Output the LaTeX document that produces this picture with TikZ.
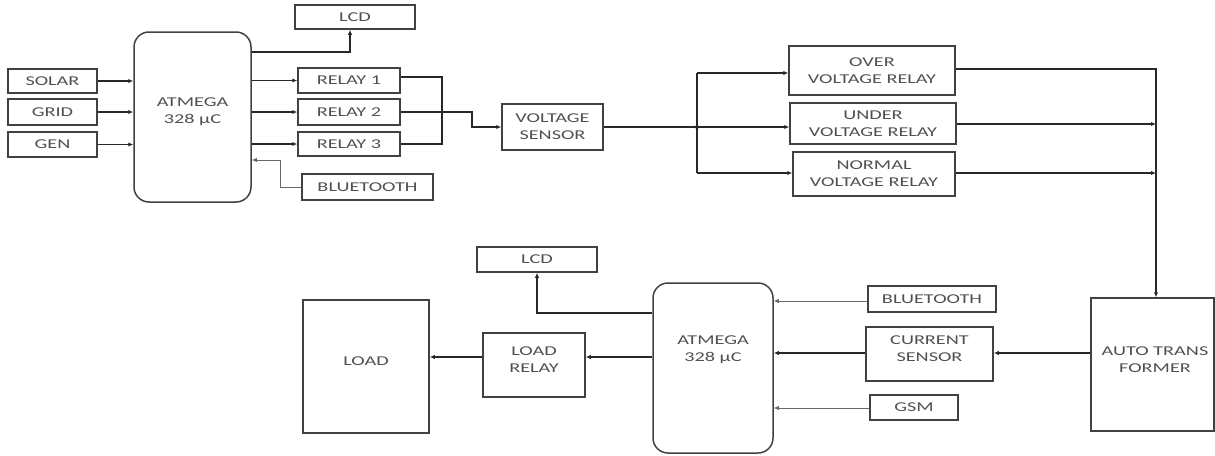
\documentclass[tikz,border=0pt]{standalone}
\usepackage{fontspec}
\usepackage{graphicx}
\newfontfamily\lab{Carlito}
\newcommand{\sx}[1]{\scalebox{1.5}[1]{#1}}
\usetikzlibrary{arrows.meta}
\definecolor{boxc}{RGB}{65,65,65}
\definecolor{txtc}{RGB}{80,80,80}
\definecolor{linec}{RGB}{40,40,40}
\definecolor{thinc}{RGB}{105,105,105}
\begin{document}
\begin{tikzpicture}[x=1pt,y=-1pt,
  txt/.style={text=txtc,align=center,font=\lab\fontsize{13.5}{17}\selectfont},
  box/.style={draw=boxc,line width=1.5pt,inner sep=0pt,txt},
  mcu/.style={box,rounded corners=15pt},
  wire/.style={draw=linec,line width=1.4pt},
  arr/.style={wire,-{Latex[length=5pt,width=4.5pt]}},
  thin/.style={draw=thinc,line width=0.9pt,-{Latex[length=5pt,width=4.5pt]}}]
\useasboundingbox (0,0) rectangle (1215,455);
% ---------- top part ----------
\node[box,minimum width=89pt,minimum height=24pt] (solar) at (52.5,81) {\sx{SOLAR}};
\node[box,minimum width=89pt,minimum height=26pt] (grid) at (52.5,112) {\sx{GRID}};
\node[box,minimum width=89pt,minimum height=25pt] (gen) at (52.5,144.5) {\sx{GEN}};
\node[mcu,minimum width=117pt,minimum height=170pt] (atm1) at (192.5,117) {};
\node[txt] (atm1t) at (192.5,112) {\sx{ATMEGA}\\\sx{328 µC}};
\node[box,minimum width=120pt,minimum height=24pt] (lcd1) at (355,17) {\sx{LCD}};
\node[box,minimum width=102pt,minimum height=25pt] (r1) at (349,80.5) {\sx{RELAY 1}};
\node[box,minimum width=102pt,minimum height=26pt] (r2) at (349,112) {\sx{RELAY 2}};
\node[box,minimum width=102pt,minimum height=24pt] (r3) at (349,144) {\sx{RELAY 3}};
\node[box,minimum width=131pt,minimum height=26pt] (bt1) at (367.5,187) {\sx{BLUETOOTH}};
\node[box,minimum width=101pt,minimum height=46pt] (vs) at (552.5,127) {\sx{VOLTAGE}\\\sx{SENSOR}};
\node[box,minimum width=166pt,minimum height=49pt] (over) at (872,70.5) {\sx{OVER}\\\sx{VOLTAGE RELAY}};
\node[box,minimum width=166pt,minimum height=41pt] (under) at (873,123.5) {\sx{UNDER}\\\sx{VOLTAGE RELAY}};
\node[box,minimum width=162pt,minimum height=44pt] (normal) at (874,174) {\sx{NORMAL}\\\sx{VOLTAGE RELAY}};
% ---------- bottom part ----------
\node[box,minimum width=123pt,minimum height=133pt] (atf) at (1152.5,364.5) {};
\node[txt] (atft) at (1155,360) {\sx{AUTO TRANS}\\\sx{FORMER}};
\node[box,minimum width=127pt,minimum height=54pt] (cs) at (929.5,354) {};
\node[txt] (cst) at (929.5,349) {\sx{CURRENT}\\\sx{SENSOR}};
\node[box,minimum width=128pt,minimum height=26pt] (bt2) at (932,299) {\sx{BLUETOOTH}};
\node[box,minimum width=88pt,minimum height=25pt] (gsm) at (914,407.5) {\sx{GSM}};
\node[mcu,minimum width=120pt,minimum height=170pt] (atm2) at (713,368) {};
\node[txt] (atm2t) at (713,350) {\sx{ATMEGA}\\\sx{328 µC}};
\node[box,minimum width=120pt,minimum height=25pt] (lcd2) at (537,259.5) {\sx{LCD}};
\node[box,minimum width=102pt,minimum height=64pt] (lr) at (534,365) {};
\node[txt] (lrt) at (534,360) {\sx{LOAD}\\\sx{RELAY}};
\node[box,minimum width=126pt,minimum height=133pt] (load) at (366,366.5) {};
\node[txt] (loadt) at (366,361) {\sx{LOAD}};
% ---------- connectors, top ----------
\draw[arr] (solar.east) -- (solar.east -| atm1.west);
\draw[arr] (grid.east) -- (grid.east -| atm1.west);
\draw[arr] (gen.east) -- (gen.east -| atm1.west);
\draw[arr] (atm1.east |- 0,52) -| (lcd1.south -| 350,0);
\draw[arr] (atm1.east |- r1.west) -- (r1.west);
\draw[arr] (atm1.east |- r2.west) -- (r2.west);
\draw[arr] (atm1.east |- r3.west) -- (r3.west);
\draw[thin] (bt1.west) -| (280,160) -- (atm1.east |- 0,160);
\draw[wire] (r1.east |- 0,77) -| (442,144) -- (r3.east);
\draw[arr] (r2.east) -- (472,112) |- (vs.west);
\coordinate (j) at (697,127);
\draw[wire] (vs.east) -- (j);
\draw[wire] (j |- 0,73) -- (j |- 0,173);
\fill[linec] (j) circle (2pt);
\draw[arr] (j |- 0,73) -- (over.west |- 0,73);
\draw[arr] (j) -- (under.west |- j);
\draw[arr] (j |- 0,173) -- (normal.west |- 0,173);
\draw[arr] (over.east |- 0,69) -| (atf.north -| 1156,0);
\draw[arr] (under.east |- 0,124) -- (1156,124);
\draw[arr] (normal.east |- 0,173) -- (1156,173);
% ---------- connectors, bottom ----------
\draw[arr] (atf.west |- 0,353) -- (cs.east |- 0,353);
\draw[arr] (cs.west |- 0,353) -- (atm2.east |- 0,353);
\draw[thin] (bt2.west |- 0,301) -- (atm2.east |- 0,301);
\draw[thin] (gsm.west |- 0,408) -- (atm2.east |- 0,408);
\draw[arr] (atm2.west |- 0,313) -| (lcd2.south);
\draw[arr] (atm2.west |- 0,357) -- (lr.east |- 0,357);
\draw[arr] (lr.west |- 0,357) -- (load.east |- 0,357);
\end{tikzpicture}
\end{document}
